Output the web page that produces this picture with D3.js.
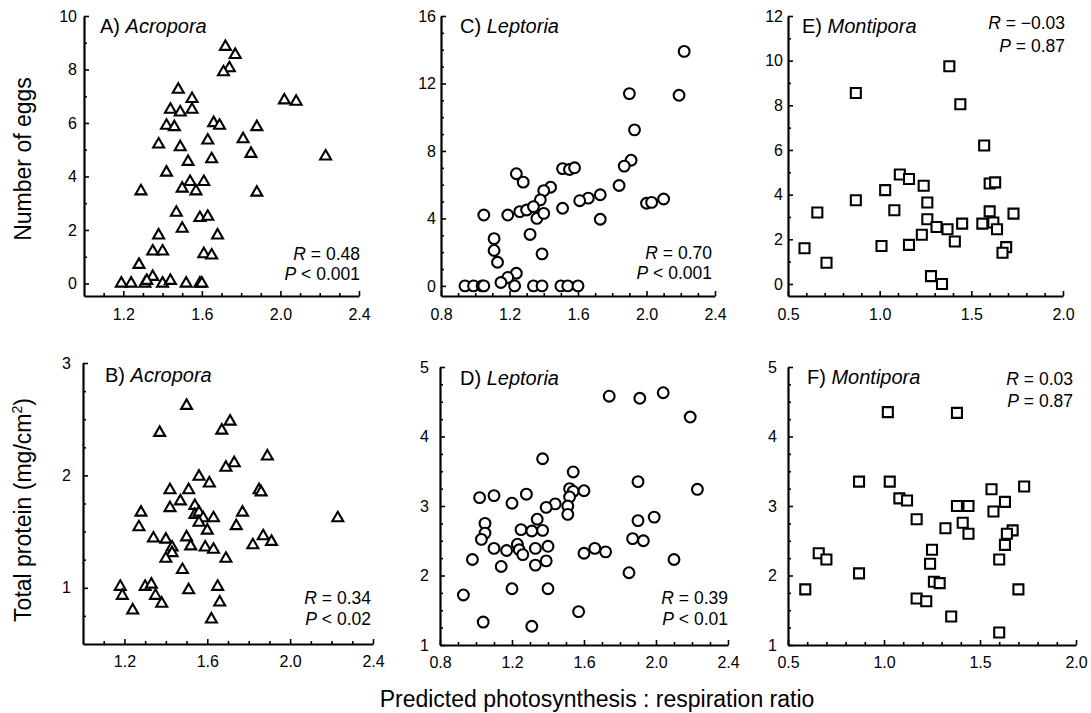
<!DOCTYPE html>
<html lang="en">
<head>
<meta charset="utf-8">
<title>Eggs and protein vs predicted P:R ratio</title>
<script src="https://cdn.jsdelivr.net/npm/d3@7"></script>
<style>
body { margin: 0; background: #fff; }
svg text { font-family: "Liberation Sans", Arial, Helvetica, sans-serif; fill: #000; }
</style>
</head>
<body>
<script>
// ---- data (x = predicted P:R ratio) ----
var acroporaEggsRatio = [1.72,1.77,1.74,1.71,1.48,1.55,2.02,2.08,1.44,1.49,1.55,1.66,1.69,1.42,1.46,1.88,1.81,1.63,1.38,1.49,1.85,1.53,1.65,2.23,1.42,1.54,1.61,1.50,1.57,1.29,1.88,1.47,1.59,1.63,1.50,1.68,1.38,1.35,1.40,1.61,1.65,1.28,1.35,1.19,1.24,1.31,1.32,1.40,1.44,1.52,1.59,1.60];
var acroporaEggsCount = [8.85,8.55,8.05,7.9,7.25,6.9,6.85,6.8,6.5,6.4,6.5,6.0,5.9,5.9,5.85,5.85,5.4,5.35,5.2,5.1,4.85,4.55,4.65,4.75,4.15,3.8,3.8,3.55,3.45,3.45,3.4,2.65,2.45,2.5,2.05,1.8,1.8,1.2,1.2,1.1,1.05,0.7,0.25,0,0,0,0.1,0,0.1,0,0,0];

var leptoriaEggsRatio = [2.22,1.90,2.19,1.93,1.91,1.87,1.51,1.55,1.58,1.24,1.28,1.44,1.40,1.84,1.73,1.66,1.61,2.00,2.03,2.10,1.38,1.51,1.26,1.30,1.34,1.36,1.40,1.19,1.05,1.73,1.32,1.11,1.11,1.13,1.39,1.24,1.19,1.15,1.23,0.94,0.99,1.04,1.05,1.34,1.39,1.50,1.54,1.60];
var leptoriaEggsCount = [13.9,11.4,11.3,9.25,7.45,7.1,6.95,6.9,7.0,6.65,6.15,5.85,5.65,5.95,5.4,5.2,5.05,4.9,4.95,5.15,5.1,4.6,4.4,4.5,4.7,4.0,4.3,4.2,4.2,3.95,3.05,2.8,2.1,1.4,1.9,0.75,0.5,0.2,0,0,0,0,0,0,0,0,0,0];

var montiporaEggsRatio = [1.38,0.87,1.44,1.57,1.11,1.16,1.24,1.60,1.63,1.03,0.87,0.66,1.08,1.26,1.60,1.73,1.26,1.31,1.37,1.45,1.56,1.62,1.64,1.23,1.41,1.16,1.01,1.69,1.67,0.59,0.71,1.28,1.34];
var montiporaEggsCount = [9.75,8.55,8.05,6.2,4.9,4.7,4.4,4.5,4.55,4.2,3.75,3.2,3.3,3.65,3.25,3.15,2.9,2.55,2.45,2.7,2.7,2.75,2.45,2.2,1.9,1.75,1.7,1.65,1.4,1.6,0.95,0.35,0];

var acroporaProteinRatio = [1.50,1.37,1.71,1.67,1.89,1.73,1.69,1.56,1.61,1.42,1.51,1.85,1.86,1.47,1.42,1.54,1.28,1.54,1.56,1.58,1.63,1.77,1.27,1.56,1.74,1.60,1.34,1.40,1.50,1.87,1.91,1.43,1.52,1.59,1.63,1.82,1.43,1.40,1.69,1.48,1.18,1.19,1.30,1.33,1.35,1.38,1.24,1.51,1.65,1.66,1.62,2.23];
var acroporaProteinMg = [2.62,2.38,2.48,2.40,2.17,2.11,2.07,1.99,1.93,1.87,1.87,1.87,1.85,1.77,1.71,1.73,1.67,1.65,1.67,1.62,1.62,1.67,1.54,1.58,1.55,1.51,1.44,1.43,1.45,1.46,1.41,1.36,1.37,1.36,1.34,1.38,1.31,1.26,1.26,1.16,1.01,0.93,1.01,1.03,0.93,0.86,0.80,0.98,1.01,0.87,0.72,1.62];

var leptoriaProteinRatio = [1.74,1.91,2.04,2.19,1.37,1.54,1.90,2.23,1.52,1.54,1.60,1.52,1.02,1.10,1.28,1.20,1.44,1.39,1.51,1.51,1.34,1.99,1.90,1.05,1.05,1.03,1.25,1.31,1.37,1.87,1.93,1.23,1.10,1.17,1.24,1.26,1.33,1.40,1.60,1.66,1.72,1.39,1.33,1.14,0.98,2.10,1.85,1.20,1.40,0.93,1.57,1.04,1.31];
var leptoriaProteinMg = [4.58,4.55,4.63,4.28,3.68,3.49,3.35,3.24,3.25,3.21,3.22,3.13,3.12,3.15,3.17,3.04,3.03,2.98,3.00,2.88,2.81,2.84,2.79,2.75,2.61,2.52,2.66,2.64,2.65,2.53,2.50,2.45,2.39,2.36,2.37,2.30,2.39,2.42,2.32,2.39,2.34,2.21,2.15,2.13,2.23,2.23,2.04,1.81,1.81,1.72,1.48,1.33,1.27];

var montiporaProteinRatio = [1.02,1.38,0.87,1.03,1.73,1.56,1.08,1.12,1.63,1.38,1.44,1.57,1.17,1.41,1.32,1.44,1.67,1.64,1.63,1.25,1.24,0.66,0.70,1.60,0.87,1.26,1.29,0.59,1.70,1.17,1.22,1.35,1.60];
var montiporaProteinMg = [4.35,4.34,3.35,3.35,3.28,3.24,3.11,3.08,3.06,3.00,3.00,2.92,2.81,2.76,2.68,2.60,2.65,2.60,2.44,2.37,2.17,2.32,2.23,2.23,2.03,1.91,1.89,1.80,1.80,1.67,1.63,1.41,1.18];

// labelled ticks
var ticksRatioAcro = [1.2, 1.6, 2.0, 2.4];
var ticksRatioLept = [0.8, 1.2, 1.6, 2.0, 2.4];
var ticksRatioMont = [0.5, 1.0, 1.5, 2.0];
var ticksEggsAcro = [0, 2, 4, 6, 8, 10];
var ticksEggsLept = [0, 4, 8, 12, 16];
var ticksEggsMont = [0, 2, 4, 6, 8, 10, 12];
var ticksProteinAcro = [1, 2, 3];
var ticksProteinOther = [1, 2, 3, 4, 5];

var statsR = ["0.48", "0.70", "\u22120.03", "0.34", "0.39", "0.03"];
var statsP = ["< 0.001", "< 0.001", "= 0.87", "< 0.02", "< 0.01", "= 0.87"];

var w = 1091, h = 713;
var svg = d3.select("body").append("svg").attr("width", w).attr("height", h);

var panels = [
  {tag: "A", genus: "Acropora", xs: acroporaEggsRatio, ys: acroporaEggsCount, shape: "tri",
   xr: [84, 359], yr: [296, 16], xd: [1.0, 2.4], yd: [-0.47, 10],
   xt: ticksRatioAcro, xm: 0.1, yt: ticksEggsAcro, ym: 1, ypad: 7,
   lab: [100, 33], statX: 360, statY: [260, 280]},
  {tag: "C", genus: "Leptoria", xs: leptoriaEggsRatio, ys: leptoriaEggsCount, shape: "circ",
   xr: [441, 715], yr: [296, 16], xd: [0.8, 2.4], yd: [-0.6, 16],
   xt: ticksRatioLept, xm: 0.1, yt: ticksEggsLept, ym: 1, ypad: 5,
   lab: [460, 33], statX: 712, statY: [259, 279]},
  {tag: "E", genus: "Montipora", xs: montiporaEggsRatio, ys: montiporaEggsCount, shape: "sq",
   xr: [788, 1063], yr: [296, 16], xd: [0.5, 2.0], yd: [-0.54, 12],
   xt: ticksRatioMont, xm: 0.1, yt: ticksEggsMont, ym: 1, ypad: 5,
   lab: [802, 33], statX: 1065, statY: [29, 52]},
  {tag: "B", genus: "Acropora", xs: acroporaProteinRatio, ys: acroporaProteinMg, shape: "tri",
   xr: [83, 373], yr: [644, 363], xd: [1.0, 2.4], yd: [0.5, 3],
   xt: ticksRatioAcro, xm: 0.1, yt: ticksProteinAcro, ym: 0.25, ypad: 12,
   lab: [105, 382], statX: 371, statY: [604, 625]},
  {tag: "D", genus: "Leptoria", xs: leptoriaProteinRatio, ys: leptoriaProteinMg, shape: "circ",
   xr: [440, 728], yr: [645, 367], xd: [0.8, 2.4], yd: [1, 5],
   xt: ticksRatioLept, xm: 0.1, yt: ticksProteinOther, ym: 0.25, ypad: 11,
   lab: [460, 385], statX: 728, statY: [604, 625]},
  {tag: "F", genus: "Montipora", xs: montiporaProteinRatio, ys: montiporaProteinMg, shape: "sq",
   xr: [788, 1076], yr: [645, 367], xd: [0.5, 2.0], yd: [1, 5],
   xt: ticksRatioMont, xm: 0.1, yt: ticksProteinOther, ym: 0.25, ypad: 11,
   lab: [807, 384], statX: 1073, statY: [385, 407]}
];

var symTri = d3.symbol().type(d3.symbolTriangle).size(52);
var symSq = d3.symbol().type(d3.symbolSquare).size(100);

// unlabelled small ticks between the labelled ones
function minorTicks(d, step, major) {
  var out = [];
  var start = Math.ceil(d[0] / step - 1e-6) * step;
  for (var v = start; v <= d[1] + 1e-6; v += step) {
    var r = Math.round(v * 1000) / 1000;
    if (major.indexOf(r) < 0 && r > d[0] + 1e-6) out.push(r);
  }
  return out;
}

panels.forEach(function(p, i) {
  var x = d3.scaleLinear().domain(p.xd).range(p.xr);
  var y = d3.scaleLinear().domain(p.yd).range(p.yr);
  var g = svg.append("g");

  // minor ticks
  g.append("g").attr("transform", "translate(0," + p.yr[0] + ")")
    .call(d3.axisBottom(x).tickValues(minorTicks(p.xd, p.xm, p.xt)).tickSize(-3).tickSizeOuter(0).tickFormat(""))
    .call(function(a) { a.select(".domain").remove(); });
  g.append("g").attr("transform", "translate(" + p.xr[0] + ",0)")
    .call(d3.axisLeft(y).tickValues(minorTicks(p.yd, p.ym, p.yt)).tickSize(-3).tickSizeOuter(0).tickFormat(""))
    .call(function(a) { a.select(".domain").remove(); });

  // major ticks + labels
  var xa = g.append("g").attr("transform", "translate(0," + p.yr[0] + ")")
    .call(d3.axisBottom(x).tickValues(p.xt).tickSize(-5).tickSizeOuter(0)
      .tickPadding(p.yr[0] > 400 ? 11.5 : 12.5).tickFormat(d3.format(".1f")));
  var ya = g.append("g").attr("transform", "translate(" + p.xr[0] + ",0)")
    .call(d3.axisLeft(y).tickValues(p.yt).tickSize(-5).tickSizeOuter(0)
      .tickPadding(p.ypad).tickFormat(d3.format("d")));
  [xa, ya].forEach(function(a) {
    a.selectAll("text").attr("font-size", 16).attr("font-family", null);
    a.select(".domain").attr("stroke-width", 2.2);
  });
  g.selectAll(".tick line").attr("stroke-width", 1.6);

  // points
  var pts = p.xs.map(function(v, k) { return {x: v, y: p.ys[k]}; });
  var sel;
  if (p.shape === "circ") {
    sel = g.selectAll("circle.pt").data(pts).enter().append("circle")
      .attr("class", "pt")
      .attr("cx", function(d) { return x(d.x); })
      .attr("cy", function(d) { return y(d.y); })
      .attr("r", 5.4);
  } else {
    var s = p.shape === "tri" ? symTri : symSq;
    sel = g.selectAll("path.pt").data(pts).enter().append("path")
      .attr("class", "pt")
      .attr("d", s)
      .attr("transform", function(d) { return "translate(" + x(d.x) + "," + y(d.y) + ")"; });
  }
  sel.attr("fill", "#fff").attr("stroke", "#000").attr("stroke-width", 2.1);

  // panel label
  var lt = g.append("text").attr("x", p.lab[0]).attr("y", p.lab[1]).attr("font-size", 20);
  lt.append("tspan").text(p.tag + ") ");
  lt.append("tspan").attr("font-style", "italic").text(p.genus);

  // statistics
  var r = g.append("text").attr("x", p.statX).attr("y", p.statY[0]).attr("font-size", 17.5).attr("text-anchor", "end");
  r.append("tspan").attr("font-style", "italic").text("R");
  r.append("tspan").text(" = " + statsR[i]);
  var pp = g.append("text").attr("x", p.statX).attr("y", p.statY[1]).attr("font-size", 17.5).attr("text-anchor", "end");
  pp.append("tspan").attr("font-style", "italic").text("P");
  pp.append("tspan").text(" " + statsP[i]);
});

// axis titles
svg.append("text").attr("transform", "translate(31,159) rotate(-90)")
  .attr("text-anchor", "middle").attr("font-size", 23).text("Number of eggs");
var pt = svg.append("text").attr("transform", "translate(31,510) rotate(-90)")
  .attr("text-anchor", "middle").attr("font-size", 23);
pt.append("tspan").text("Total protein (mg/cm");
pt.append("tspan").attr("font-size", 14).attr("dy", -9).text("2");
pt.append("tspan").attr("dy", 9).text(")");
svg.append("text").attr("x", 597).attr("y", 707)
  .attr("text-anchor", "middle").attr("font-size", 23).text("Predicted photosynthesis : respiration ratio");
</script>
</body>
</html>
